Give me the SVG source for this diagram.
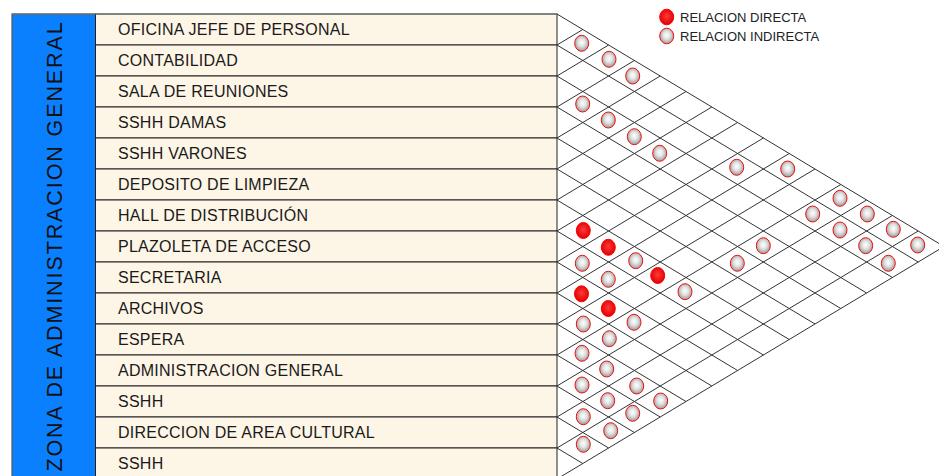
<svg xmlns="http://www.w3.org/2000/svg" width="939" height="476" viewBox="0 0 939 476">
<style>
.row{fill:#FDF5E6;stroke:#222;stroke-width:1}
.lbl{font-family:"Liberation Sans",Arial,sans-serif;font-size:16px;letter-spacing:0.25px;fill:#1a1a1a}
.zone{font-family:"Liberation Sans",Arial,sans-serif;font-size:21.5px;letter-spacing:1.9px;fill:#111}
.leg{font-family:"Liberation Sans",Arial,sans-serif;font-size:13px;fill:#222}
.grid line{stroke:#333;stroke-width:1}
.ind{fill:url(#gGrey);stroke:#f01010;stroke-width:1}
.dir{fill:url(#gRed);stroke:#f00;stroke-width:1}
</style>
<defs>
<radialGradient id="gGrey" cx="50%" cy="45%" r="55%">
<stop offset="0" stop-color="#ffffff"/>
<stop offset="0.45" stop-color="#e2e2e2"/>
<stop offset="1" stop-color="#9a9a9a"/>
</radialGradient>
<radialGradient id="gRed" cx="50%" cy="45%" r="55%">
<stop offset="0" stop-color="#ff3a3a"/>
<stop offset="1" stop-color="#e00000"/>
</radialGradient>
</defs>
<rect width="939" height="476" fill="#fff"/>
<g id="zone">
<rect x="12" y="14" width="83.5" height="470" fill="#0A80FF" stroke="#555" stroke-width="1.2"/>
<text class="zone" transform="translate(61.5,246) rotate(-90)" text-anchor="middle">ZONA DE ADMINISTRACION GENERAL</text>
</g>
<g id="rows">
<g id="r0"><rect class="row" x="95.5" y="14" width="461.5" height="31"/><text class="lbl" x="118" y="35">OFICINA JEFE DE PERSONAL</text></g>
<g id="r1"><rect class="row" x="95.5" y="45" width="461.5" height="31"/><text class="lbl" x="118" y="66">CONTABILIDAD</text></g>
<g id="r2"><rect class="row" x="95.5" y="76" width="461.5" height="31"/><text class="lbl" x="118" y="97">SALA DE REUNIONES</text></g>
<g id="r3"><rect class="row" x="95.5" y="107" width="461.5" height="31"/><text class="lbl" x="118" y="128">SSHH DAMAS</text></g>
<g id="r4"><rect class="row" x="95.5" y="138" width="461.5" height="31"/><text class="lbl" x="118" y="159">SSHH VARONES</text></g>
<g id="r5"><rect class="row" x="95.5" y="169" width="461.5" height="31"/><text class="lbl" x="118" y="190">DEPOSITO DE LIMPIEZA</text></g>
<g id="r6"><rect class="row" x="95.5" y="200" width="461.5" height="31"/><text class="lbl" x="118" y="221">HALL DE DISTRIBUCIÓN</text></g>
<g id="r7"><rect class="row" x="95.5" y="231" width="461.5" height="31"/><text class="lbl" x="118" y="252">PLAZOLETA DE ACCESO</text></g>
<g id="r8"><rect class="row" x="95.5" y="262" width="461.5" height="31"/><text class="lbl" x="118" y="283">SECRETARIA</text></g>
<g id="r9"><rect class="row" x="95.5" y="293" width="461.5" height="31"/><text class="lbl" x="118" y="314">ARCHIVOS</text></g>
<g id="r10"><rect class="row" x="95.5" y="324" width="461.5" height="31"/><text class="lbl" x="118" y="345">ESPERA</text></g>
<g id="r11"><rect class="row" x="95.5" y="355" width="461.5" height="31"/><text class="lbl" x="118" y="376">ADMINISTRACION GENERAL</text></g>
<g id="r12"><rect class="row" x="95.5" y="386" width="461.5" height="31"/><text class="lbl" x="118" y="407">SSHH</text></g>
<g id="r13"><rect class="row" x="95.5" y="417" width="461.5" height="31"/><text class="lbl" x="118" y="438">DIRECCION DE AREA CULTURAL</text></g>
<g id="r14"><rect class="row" x="95.5" y="448" width="461.5" height="31"/><text class="lbl" x="118" y="469">SSHH</text></g>
<line x1="12" y1="14" x2="557" y2="14" stroke="#777" stroke-width="1.2"/>
</g>
<g id="connectors" class="grid">
<line x1="557" y1="14" x2="944" y2="246.5"/>
<line x1="557" y1="45" x2="918.2" y2="262"/>
<line x1="557" y1="76" x2="892.4" y2="277.5"/>
<line x1="557" y1="107" x2="866.6" y2="293"/>
<line x1="557" y1="138" x2="840.8" y2="308.5"/>
<line x1="557" y1="169" x2="815" y2="324"/>
<line x1="557" y1="200" x2="789.2" y2="339.5"/>
<line x1="557" y1="231" x2="763.4" y2="355"/>
<line x1="557" y1="262" x2="737.6" y2="370.5"/>
<line x1="557" y1="293" x2="711.8" y2="386"/>
<line x1="557" y1="324" x2="686" y2="401.5"/>
<line x1="557" y1="355" x2="660.2" y2="417"/>
<line x1="557" y1="386" x2="634.4" y2="432.5"/>
<line x1="557" y1="417" x2="608.6" y2="448"/>
<line x1="557" y1="448" x2="582.8" y2="463.5"/>
<line x1="557" y1="45" x2="582.8" y2="29.5"/>
<line x1="557" y1="76" x2="608.6" y2="45"/>
<line x1="557" y1="107" x2="634.4" y2="60.5"/>
<line x1="557" y1="138" x2="660.2" y2="76"/>
<line x1="557" y1="169" x2="686" y2="91.5"/>
<line x1="557" y1="200" x2="711.8" y2="107"/>
<line x1="557" y1="231" x2="737.6" y2="122.5"/>
<line x1="557" y1="262" x2="763.4" y2="138"/>
<line x1="557" y1="293" x2="789.2" y2="153.5"/>
<line x1="557" y1="324" x2="815" y2="169"/>
<line x1="557" y1="355" x2="840.8" y2="184.5"/>
<line x1="557" y1="386" x2="866.6" y2="200"/>
<line x1="557" y1="417" x2="892.4" y2="215.5"/>
<line x1="557" y1="448" x2="918.2" y2="231"/>
<line x1="557" y1="479" x2="944" y2="246.5"/>
</g>
<g id="relations">
<ellipse class="dir" cx="583.3" cy="230.5" rx="7" ry="8"/>
<ellipse class="dir" cx="608.3" cy="247.3" rx="7" ry="8"/>
<ellipse class="dir" cx="657.7" cy="275.5" rx="7" ry="8"/>
<ellipse class="dir" cx="581.5" cy="293.8" rx="7" ry="8"/>
<ellipse class="dir" cx="608.3" cy="308.5" rx="7" ry="8"/>
<ellipse class="ind" cx="581.7" cy="43.3" rx="7" ry="8"/>
<ellipse class="ind" cx="609" cy="59.3" rx="7" ry="8"/>
<ellipse class="ind" cx="632.7" cy="76" rx="7" ry="8"/>
<ellipse class="ind" cx="582.7" cy="104" rx="7" ry="8"/>
<ellipse class="ind" cx="608.3" cy="120" rx="7" ry="8"/>
<ellipse class="ind" cx="634.3" cy="136.7" rx="7" ry="8"/>
<ellipse class="ind" cx="659.7" cy="153.3" rx="7" ry="8"/>
<ellipse class="ind" cx="736.7" cy="167.3" rx="7" ry="8"/>
<ellipse class="ind" cx="787.7" cy="169" rx="7" ry="8"/>
<ellipse class="ind" cx="840" cy="198.3" rx="7" ry="8"/>
<ellipse class="ind" cx="812.7" cy="214" rx="7" ry="8"/>
<ellipse class="ind" cx="867.3" cy="214" rx="7" ry="8"/>
<ellipse class="ind" cx="840" cy="230" rx="7" ry="8"/>
<ellipse class="ind" cx="893.3" cy="229.3" rx="7" ry="8"/>
<ellipse class="ind" cx="763.3" cy="245.7" rx="7" ry="8"/>
<ellipse class="ind" cx="865.7" cy="245.7" rx="7" ry="8"/>
<ellipse class="ind" cx="917.7" cy="245" rx="7" ry="8"/>
<ellipse class="ind" cx="737.3" cy="263.3" rx="7" ry="8"/>
<ellipse class="ind" cx="888.3" cy="263.3" rx="7" ry="8"/>
<ellipse class="ind" cx="582.3" cy="263.3" rx="7" ry="8"/>
<ellipse class="ind" cx="635.7" cy="260.7" rx="7" ry="8"/>
<ellipse class="ind" cx="608.3" cy="279.3" rx="7" ry="8"/>
<ellipse class="ind" cx="685" cy="291.7" rx="7" ry="8"/>
<ellipse class="ind" cx="583.3" cy="324" rx="7" ry="8"/>
<ellipse class="ind" cx="634" cy="322.3" rx="7" ry="8"/>
<ellipse class="ind" cx="609.3" cy="338.7" rx="7" ry="8"/>
<ellipse class="ind" cx="582" cy="353.3" rx="7" ry="8"/>
<ellipse class="ind" cx="606.7" cy="369" rx="7" ry="8"/>
<ellipse class="ind" cx="582" cy="385" rx="7" ry="8"/>
<ellipse class="ind" cx="636.7" cy="386" rx="7" ry="8"/>
<ellipse class="ind" cx="607.7" cy="400.7" rx="7" ry="8"/>
<ellipse class="ind" cx="660.7" cy="401" rx="7" ry="8"/>
<ellipse class="ind" cx="632.7" cy="413.3" rx="7" ry="8"/>
<ellipse class="ind" cx="583.3" cy="416.7" rx="7" ry="8"/>
<ellipse class="ind" cx="610.7" cy="430.7" rx="7" ry="8"/>
<ellipse class="ind" cx="583.3" cy="444.3" rx="7" ry="8"/>
</g>
<g id="legend">
<ellipse class="dir" cx="666.7" cy="17" rx="7" ry="7.8"/>
<text class="leg" x="680" y="21.5">RELACION DIRECTA</text>
<ellipse class="ind" cx="666.7" cy="36" rx="7" ry="7.8"/>
<text class="leg" x="680" y="40.5">RELACION INDIRECTA</text>
</g>
</svg>
